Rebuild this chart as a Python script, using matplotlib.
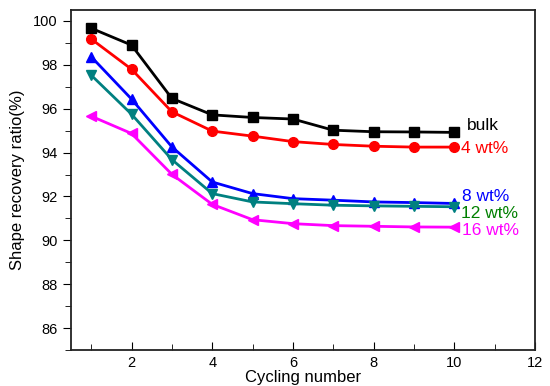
import numpy as np
import matplotlib.pyplot as plt
from matplotlib.ticker import MultipleLocator

plt.rcParams['font.family'] = ['Liberation Sans', 'DejaVu Sans']

cycles = np.arange(1, 11)
bulk = [99.67, 98.9, 96.47, 95.72, 95.6, 95.53, 95.02, 94.95, 94.94, 94.92]
wt4 = [99.18, 97.8, 95.86, 94.98, 94.75, 94.5, 94.37, 94.29, 94.25, 94.25]
wt8 = [98.37, 96.44, 94.26, 92.66, 92.13, 91.9, 91.83, 91.75, 91.72, 91.68]
wt12 = [97.53, 95.75, 93.68, 92.13, 91.75, 91.67, 91.6, 91.57, 91.55, 91.53]
wt16 = [95.66, 94.87, 93.01, 91.64, 90.94, 90.76, 90.67, 90.64, 90.61, 90.6]

series = [
    (bulk, 'black', 's', 'bulk', 'black'),
    (wt4, '#ff0000', 'o', '4 wt%', '#ff0000'),
    (wt8, '#0000ff', '^', '8 wt%', '#0000ff'),
    (wt12, '#008080', 'v', '12 wt%', '#008000'),
    (wt16, '#ff00ff', '<', '16 wt%', '#ff00ff'),
]
# label positions (data coords) next to the last point
label_pos = [(10.32, 95.25), (10.17, 94.2), (10.19, 92.0), (10.17, 91.2), (10.19, 90.45)]

fig = plt.figure(figsize=(5.5, 3.86), dpi=100)
ax = fig.add_axes([71 / 550, 36 / 386, 464 / 550, 340 / 386])

for (vals, c, m, lab, tc), (lx, ly) in zip(series, label_pos):
    ax.plot(cycles, vals, color=c, marker=m, lw=2, ms=7)
    ax.text(lx, ly, lab, color=tc, fontsize=12.5, va='center', ha='left')

ax.set_xlim(0.5, 12)
ax.set_ylim(85, 100.5)
ax.xaxis.set_minor_locator(MultipleLocator(1))
ax.yaxis.set_major_locator(MultipleLocator(2))
ax.yaxis.set_minor_locator(MultipleLocator(1))
ax.set_xticks([2, 4, 6, 8, 10, 12])
ax.tick_params(axis='x', which='both', direction='in', labelsize=10.5, pad=4)
ax.tick_params(axis='x', which='major', length=6)
ax.tick_params(axis='x', which='minor', length=4)
ax.tick_params(axis='y', which='both', direction='out', labelsize=10.5)
ax.tick_params(axis='y', which='major', length=6)
ax.tick_params(axis='y', which='minor', length=4)
for s in ax.spines.values():
    s.set_linewidth(1.3)
    s.set_color('#222222')

ax.set_xlabel('Cycling number', fontsize=12, labelpad=0.5)
ax.set_ylabel('Shape recovery ratio(%)', fontsize=12, labelpad=6)

fig.savefig('out.png', dpi=100)
